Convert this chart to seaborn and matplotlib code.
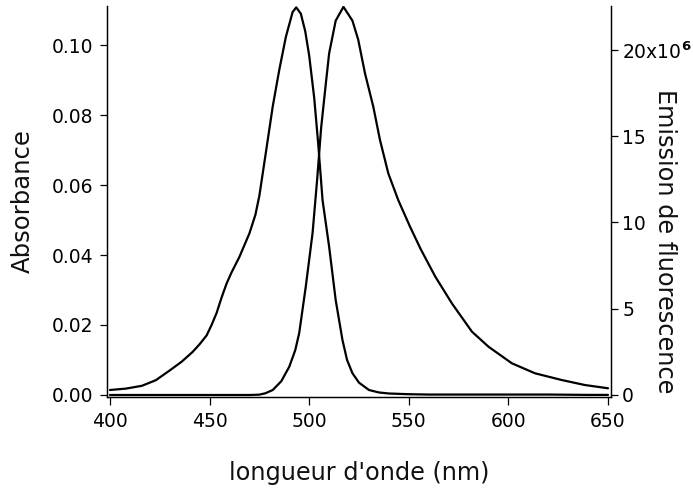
import matplotlib
matplotlib.use("Agg")
import matplotlib.pyplot as plt
import seaborn as sns
import pandas as pd

# Absorbance spectrum
abs_nm = [400, 408, 416, 423, 430, 436, 441.5, 445, 448.5, 451, 453.5, 456, 458.5, 461, 465,
          470, 473, 475, 478.3, 481.7, 485, 488.3, 491.7, 493.5, 495.8, 498, 500, 502.5, 504.5,
          506.7, 510, 513.3, 516.7, 519, 521.7, 525, 530, 535, 540, 550, 560, 580, 600, 620, 640, 650]
abs_val = [0.0014, 0.0018, 0.0026, 0.0042, 0.0070, 0.0095, 0.0123, 0.0145, 0.0170, 0.0200, 0.0234,
           0.0278, 0.0318, 0.0350, 0.0395, 0.0462, 0.0515, 0.0570, 0.0695, 0.0825, 0.0930, 0.1024,
           0.1095, 0.1108, 0.1090, 0.1040, 0.0970, 0.0850, 0.0720, 0.0557, 0.0424, 0.0271, 0.0157,
           0.0100, 0.0062, 0.0035, 0.0014, 0.0007, 0.0004, 0.0002, 0.0001, 0.0001, 0.0001, 0.0001,
           0.0, 0.0]

# Fluorescence emission spectrum (x 10^6)
em_nm = [400, 420, 440, 460, 470, 475, 478, 481.7, 486, 490, 493, 495, 498.3, 501.7, 504, 506,
         508.3, 510, 513.3, 517.2, 521.7, 524.6, 528, 532.2, 535.5, 539.7, 544.7, 550.6, 556,
         563.3, 571.7, 581.7, 590, 601.7, 613.3, 626.7, 638.3, 650]
em_val = [0, 0, 0, 0, 0, 0.02, 0.1, 0.29, 0.8, 1.64, 2.6, 3.6, 6.3, 9.4, 12.5, 15.5, 18.0, 19.8,
          21.7, 22.5, 21.7, 20.6, 18.65, 16.7, 14.8, 12.85, 11.3, 9.76, 8.45, 6.86, 5.3, 3.67,
          2.8, 1.84, 1.26, 0.87, 0.58, 0.39]

x_ticks = [400, 450, 500, 550, 600, 650]
left_ticks = [0.00, 0.02, 0.04, 0.06, 0.08, 0.10]
right_ticks = [0, 5, 10, 15, 20]
right_labels = ["0", "5", "10", "15", r"20x10$^{\mathbf{6}}$"]

sns.set_style("white")
plt.rcParams["font.family"] = ["DejaVu Sans"]

df_abs = pd.DataFrame({"nm": abs_nm, "val": abs_val})
df_em = pd.DataFrame({"nm": em_nm, "val": em_val})

fig = plt.figure(figsize=(6.93, 4.90), dpi=100)
ax = fig.add_axes([107 / 693, 1 - 397 / 490, (611 - 107) / 693, (397 - 6) / 490])
ax2 = ax.twinx()

sns.lineplot(data=df_abs, x="nm", y="val", ax=ax, color="black", linewidth=1.6)
sns.lineplot(data=df_em, x="nm", y="val", ax=ax2, color="black", linewidth=1.6)

ax.set_xlim(398.5, 651.5)
ax.set_ylim(-0.0006, 0.1112)
ax2.set_ylim(-0.116, 22.55)

ax.set_xticks(x_ticks)
ax.set_xticklabels([str(t) for t in x_ticks])
ax.set_yticks(left_ticks)
ax.set_yticklabels([f"{t:.2f}" for t in left_ticks])
ax2.set_yticks(right_ticks)
ax2.set_yticklabels(right_labels)

for a in (ax, ax2):
    a.spines["top"].set_visible(False)
    for s in ("left", "right", "bottom"):
        a.spines[s].set_linewidth(0.9)
        a.spines[s].set_color("black")

ax.tick_params(axis="x", direction="out", length=5.5, width=0.9, colors="black",
               labelsize=13.5, pad=5, bottom=True)
ax.tick_params(axis="y", direction="out", length=5, width=0.9, colors="black",
               labelsize=13.5, pad=5, left=True)
ax2.tick_params(axis="y", direction="out", length=5, width=0.9, colors="black",
                labelsize=13.5, pad=3, right=True)

ax.set_xlabel("longueur d'onde (nm)", fontsize=17.3, labelpad=22, color="#111111")
ax.set_ylabel("Absorbance", fontsize=17.5, labelpad=12, color="#111111")
ax2.set_ylabel("Emission de fluorescence", fontsize=17.3, rotation=270,
               va="center", ha="center", color="#111111")
ax2.yaxis.set_label_coords((665 - 107) / 504, (397 - 241) / 391)

fig.savefig("out.png", dpi=100)
